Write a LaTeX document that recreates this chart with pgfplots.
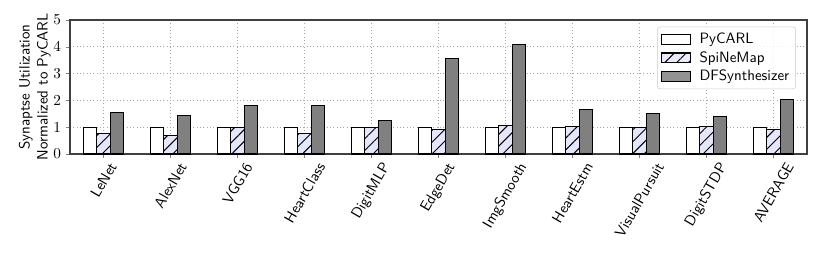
\documentclass[border=0pt]{standalone}
\usepackage{graphicx}
\usepackage{pgfplots}
\pgfplotsset{compat=1.18}
\usetikzlibrary{patterns.meta}
\definecolor{lav}{HTML}{E6E6FA}
\definecolor{dfgray}{HTML}{808080}
\newcommand{\fs}{\fontsize{10.8}{13}\selectfont}
\newcommand{\rl}[1]{\rotatebox{60}{#1}}
\begin{document}
\begin{tikzpicture}
\begin{axis}[
  at={(0,0)}, anchor=south west,
  scale only axis, width=530.6pt, height=96.5pt,
  xmin=-0.5, xmax=10.5, ymin=0, ymax=5,
  xtick={0,1,2,3,4,5,6,7,8,9,10},
  xticklabels={\rl{LeNet},\rl{AlexNet},\rl{VGG16},\rl{HeartClass},\rl{DigitMLP},\rl{EdgeDet},\rl{ImgSmooth},\rl{HeartEstm},\rl{VisualPursuit},\rl{DigitSTDP},\rl{AVERAGE}},
  xticklabel style={anchor=north, font=\sffamily\fs, inner sep=2pt},
  yticklabel style={font=\fs},
  ytick={0,1,2,3,4,5},
  tick align=outside, tick pos=left,
  major tick length=3pt,
  xmajorgrids, ymajorgrids,
  grid style={dotted, black!35, line width=0.6pt},
  axis line style={black!75, line width=0.8pt},
  ylabel={Synaptse Utilization\\Normalized to PyCARL},
  ylabel style={font=\sffamily\fs, align=center},
  ylabel shift=-5pt,
  legend style={at={(0.985,0.95)}, anchor=north east, rounded corners=2pt,
    draw=black!20, fill=white, fill opacity=0.85, text opacity=1,
    font=\sffamily\fs, row sep=0pt, inner sep=2.5pt},
  legend cell align=left,
  legend image code/.code={\draw[#1, sharp corners] (0pt,-3.5pt) rectangle (21pt,3.5pt); \path (25pt,0pt);},
]
\addplot[ybar, bar width=9.65pt, bar shift=-9.65pt, draw=black, line width=0.8pt, fill=white]
  coordinates {(0,1) (1,1) (2,1) (3,1) (4,1) (5,1) (6,1) (7,1) (8,1) (9,1) (10,1)};
\addlegendentry{PyCARL}
\addplot[ybar, bar width=9.65pt, bar shift=0pt, draw=black, line width=0.8pt, fill=lav,
  postaction={pattern={Lines[angle=45, distance=6pt, line width=0.7pt]}}]
  coordinates {(0,0.76) (1,0.68) (2,1.0) (3,0.78) (4,1.0) (5,0.90) (6,1.05) (7,1.02) (8,1.0) (9,1.02) (10,0.93)};
\addlegendentry{SpiNeMap}
\addplot[ybar, bar width=9.65pt, bar shift=9.65pt, draw=black, line width=0.8pt, fill=dfgray]
  coordinates {(0,1.56) (1,1.44) (2,1.81) (3,1.82) (4,1.25) (5,3.57) (6,4.07) (7,1.67) (8,1.51) (9,1.39) (10,2.02)};
\addlegendentry{DFSynthesizer}
\end{axis}
\pgfresetboundingbox
\path[use as bounding box] (-50.4pt,-73.44pt) rectangle (541.44pt,110.88pt);
\end{tikzpicture}
\end{document}
